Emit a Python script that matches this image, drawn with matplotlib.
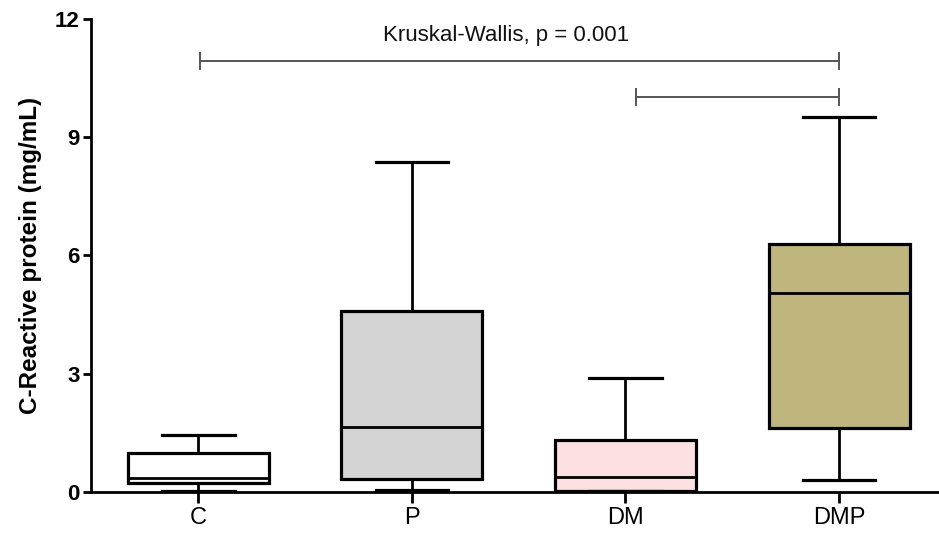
import numpy as np
import matplotlib.pyplot as plt

# box plot summary (mg/mL)
groups = ['C', 'P', 'DM', 'DMP']
whisker_low = [0.03, 0.05, 0.02, 0.30]
q1 = [0.22, 0.32, 0.03, 1.62]
median = [0.36, 1.66, 0.37, 5.05]
q3 = [1.00, 4.60, 1.33, 6.30]
whisker_high = [1.45, 8.37, 2.89, 9.51]
box_colors = ['#ffffff', '#d4d4d4', '#fde0e1', '#bfb67d']

y_ticks = [0, 3, 6, 9, 12]
test_label = 'Kruskal-Wallis, p = 0.001'

plt.rcParams['font.family'] = ['Liberation Sans', 'DejaVu Sans']

fig = plt.figure(figsize=(9.39, 5.36), dpi=100)
ax = fig.add_axes([0.0966, 0.0821, 0.9034, 0.8825])

stats = []
for i, g in enumerate(groups):
    stats.append({'label': g, 'whislo': whisker_low[i], 'q1': q1[i],
                  'med': median[i], 'q3': q3[i], 'whishi': whisker_high[i]})

pos = np.arange(len(groups))
bp = ax.bxp(stats, positions=pos, widths=0.66, capwidths=0.34,
            showfliers=False, patch_artist=True,
            boxprops=dict(linewidth=2.3, edgecolor='black'),
            medianprops=dict(color='black', linewidth=2.0),
            whiskerprops=dict(color='black', linewidth=2.0),
            capprops=dict(color='black', linewidth=2.3))
for patch, c in zip(bp['boxes'], box_colors):
    patch.set_facecolor(c)

# significance brackets
def bracket(x0, x1, y, h=0.2):
    ax.plot([x0, x1], [y, y], color='#555555', lw=1.4, clip_on=False)
    for x in (x0, x1):
        ax.plot([x, x], [y - h, y + h], color='#555555', lw=1.4, clip_on=False)

bracket(0.01, 3.0, 10.93)
bracket(2.05, 3.0, 10.03)
ax.text(1.44, 11.58, test_label, ha='center', va='center', fontsize=16, color='#111111')

ax.set_xlim(-0.504, 3.468)
ax.set_ylim(0, 12)
ax.set_yticks(y_ticks)
ax.set_yticklabels([str(t) for t in y_ticks], fontsize=16, fontweight='bold')
ax.set_xticks(pos)
ax.set_xticklabels(groups, fontsize=17)
ax.set_ylabel('C-Reactive protein (mg/mL)', fontsize=17.5, fontweight='bold', labelpad=9)

for side in ['top', 'right']:
    ax.spines[side].set_visible(False)
for side in ['left', 'bottom']:
    ax.spines[side].set_linewidth(2.0)
ax.tick_params(axis='y', direction='out', length=6, width=2.0, pad=2)
ax.tick_params(axis='x', direction='out', length=8, width=2.0, pad=3)

fig.savefig('out.png', dpi=100)
